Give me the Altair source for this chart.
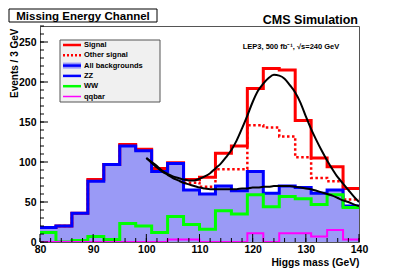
import altair as alt
import pandas as pd

# ---- data ----
edges = [80, 83, 86, 89, 92, 95, 98, 101, 104, 107, 110, 113, 116, 119, 122, 125, 128, 131, 134, 137, 140]
signal = [18, 20, 36, 78, 97, 122, 116, 92, 99, 78, 81, 111, 120, 192, 217, 215, 152, 105, 94, 67]
other_signal = [18, 20, 36, 77, 97, 121, 115, 91, 98, 74, 69, 91, 91, 146, 143, 132, 106, 80, 76, 53]
all_bkg = [18, 20, 36, 76, 97, 120, 114, 88, 98, 65, 60, 70, 64, 88, 61, 70, 68, 61, 65, 45]
ww = [12, 0, 2, 7, 3, 23, 20, 12, 32, 22, 16, 39, 35, 59, 44, 57, 54, 47, 59, 43]
qqbar = [0, 0, 0, 0, 0, 0, 0, 0, 3, 3, 0, 0, 0, 11, 0, 11, 11, 7, 15, 3]

fit_mass = [100, 101, 102, 103, 104, 105, 106, 107, 108, 109, 110, 111, 112, 113, 114, 115, 116, 117, 118, 119, 120,
            121, 122, 123, 124, 125, 126, 127, 128, 129, 130, 131, 132, 133, 134, 135, 136, 137, 138, 139, 140]
fit_sb = [105, 100, 95, 89, 85, 82, 80, 78, 77, 77, 79, 82, 86, 92, 98, 106, 115, 127, 142, 158, 175,
          189, 198, 205, 209, 208, 204, 196, 187, 174, 157, 141, 127, 114, 102, 91, 81, 73, 65, 57, 50]
fit_b = [105, 99, 93, 88, 84, 80, 77, 74, 72, 70, 68, 67, 66, 66, 66, 66, 66, 66, 67, 67, 68,
         68, 69, 69, 70, 70, 70, 70, 69, 68, 67, 66, 64, 62, 60, 58, 55, 52, 50, 47, 45]

x_labels = [80, 90, 100, 110, 120, 130, 140]
y_labels = [0, 50, 100, 150, 200, 250]
x_minor = list(range(80, 141, 2))
y_minor = list(range(0, 271, 10))

legend_items = ["Signal", "Other signal", "All backgrounds", "ZZ", "WW", "qqbar"]

W, H = 319, 216
FONT = "Liberation Sans"

xs = alt.Scale(domain=[80, 140], nice=False, zero=False)
ys = alt.Scale(domain=[0, 270], nice=False, zero=True)
xaxis = alt.Axis(values=x_labels, format="d", grid=False, domain=False, ticks=False, tickSize=0,
                 labelFont=FONT, labelFontWeight="bold", labelFontSize=10.5, labelColor="black",
                 labelPadding=2, labelFlush=False, title="Higgs mass (GeV)", titleFont=FONT,
                 titleFontWeight="bold", titleFontSize=10.3, titleColor="black", titleAlign="right",
                 titleAnchor="end", titleX=W, titleY=23, titleBaseline="alphabetic")
yaxis = alt.Axis(values=y_labels, format="d", grid=False, domain=False, ticks=False, tickSize=0,
                 labelFont=FONT, labelFontWeight="bold", labelFontSize=10.5, labelColor="black",
                 labelPadding=4, labelFlush=False, title="Events / 3 GeV", titleFont=FONT,
                 titleFontWeight="bold", titleFontSize=10, titleColor="black", titleAngle=270,
                 titleAlign="right", titleBaseline="alphabetic", titleX=-23, titleY=2)
X = alt.X("x:Q", scale=xs, axis=xaxis)
Y = alt.Y("y:Q", scale=ys, axis=yaxis)


def step_df(vals):
    return pd.DataFrame({"x": edges, "y": list(vals) + [vals[-1]]})


def step_line(vals, color, width=3, dash=None):
    kw = dict(interpolate="step-after", color=color, strokeWidth=width, clip=True)
    if dash:
        kw["strokeDash"] = dash
    return alt.Chart(step_df(vals)).mark_line(**kw).encode(x=X, y=Y)


FILL = "#9a9af6"
area = alt.Chart(step_df(all_bkg)).mark_area(interpolate="step-after", color=FILL, clip=True).encode(x=X, y=Y)
dotted = step_line(other_signal, "#ff0000", 2.5, [2.5, 2.5])
red = step_line(signal, "#ff0000", 3)
blue = step_line(all_bkg, "#0000ff", 3)
green = step_line(ww, "#00ff00", 3)
mag = step_line(qqbar, "#ff00ff", 2)

fit_b_line = alt.Chart(pd.DataFrame({"x": fit_mass, "y": fit_b})).mark_line(
    color="black", strokeWidth=2, interpolate="monotone", clip=True).encode(x=X, y=Y)
fit_sb_line = alt.Chart(pd.DataFrame({"x": fit_mass, "y": fit_sb})).mark_line(
    color="black", strokeWidth=2, interpolate="monotone", clip=True).encode(x=X, y=Y)

# ticks inside the frame
ymaj = alt.Chart(pd.DataFrame({"y": y_labels})).mark_rule(color="black", strokeWidth=1).encode(
    y=Y, x=alt.value(0), x2=alt.value(8))
ymin = alt.Chart(pd.DataFrame({"y": y_minor})).mark_rule(color="black", strokeWidth=1).encode(
    y=Y, x=alt.value(0), x2=alt.value(4))
xmaj = alt.Chart(pd.DataFrame({"x": x_labels})).mark_rule(color="black", strokeWidth=1).encode(
    x=X, y=alt.value(H), y2=alt.value(H - 8))
xmin = alt.Chart(pd.DataFrame({"x": x_minor})).mark_rule(color="black", strokeWidth=1).encode(
    x=X, y=alt.value(H), y2=alt.value(H - 4))

one = pd.DataFrame({"a": [0]})

# legend
LX0, LX1, LY0, LY1 = 20, 120, 14, 76
legend_layers = [
    alt.Chart(one).mark_rect(fill="#f0f0f0", stroke="#555555", strokeWidth=1).encode(
        x=alt.value(LX0), x2=alt.value(LX1), y=alt.value(LY0), y2=alt.value(LY1))
]
styles = [
    ("#ff0000", 2.5, None), ("#ff0000", 2.5, [2, 2]), ("#0000ff", 2.5, None),
    ("#0000ff", 2.5, None), ("#00ff00", 2.5, None), ("#ff00ff", 1.5, None),
]
for i, (label, (col, sw, dash)) in enumerate(zip(legend_items, styles)):
    yy = 19 + i * 10.3
    if label == "All backgrounds":
        legend_layers.append(alt.Chart(one).mark_rect(fill=FILL).encode(
            x=alt.value(23), x2=alt.value(41), y=alt.value(yy - 3), y2=alt.value(yy + 3)))
    kw = dict(color=col, strokeWidth=sw)
    if dash:
        kw["strokeDash"] = dash
    legend_layers.append(alt.Chart(one).mark_rule(**kw).encode(
        x=alt.value(23), x2=alt.value(41), y=alt.value(yy)))
    legend_layers.append(alt.Chart(one).mark_text(
        text=label, align="left", baseline="middle", font=FONT, fontWeight="bold",
        fontSize=7.5, color="black").encode(x=alt.value(44), y=alt.value(yy)))

# annotations
title_box = alt.Chart(one).mark_rect(fill="white", stroke="black", strokeWidth=1).encode(
    x=alt.value(-31), x2=alt.value(117), y=alt.value(-17), y2=alt.value(-4))
title_txt = alt.Chart(one).mark_text(
    text="Missing Energy Channel", align="center", baseline="alphabetic", font=FONT,
    fontWeight="bold", fontSize=11.5, color="black").encode(x=alt.value(43), y=alt.value(-6.5))
cms_txt = alt.Chart(one).mark_text(
    text="CMS Simulation", align="right", baseline="alphabetic", font=FONT,
    fontWeight="bold", fontSize=12.5, color="black").encode(x=alt.value(W - 1), y=alt.value(-2))
lep_txt = alt.Chart(one).mark_text(
    text="LEP3, 500 fb⁻¹, √s=240 GeV", align="center", baseline="alphabetic", font=FONT,
    fontWeight="bold", fontSize=7.5, color="black").encode(x=alt.value(251), y=alt.value(23))

chart = alt.layer(
    area, dotted, red, blue, green, mag, fit_b_line, fit_sb_line,
    ymaj, ymin, xmaj, xmin, *legend_layers, title_box, title_txt, cms_txt, lep_txt
).properties(
    width=W, height=H,
    autosize=alt.AutoSizeParams(type="none"),
    padding={"left": 32, "top": 18, "right": 24, "bottom": 26},
    background="white",
).configure_view(stroke="#555555", strokeWidth=1)

chart.save("out.html", embed_options={"renderer": "svg", "actions": False})
